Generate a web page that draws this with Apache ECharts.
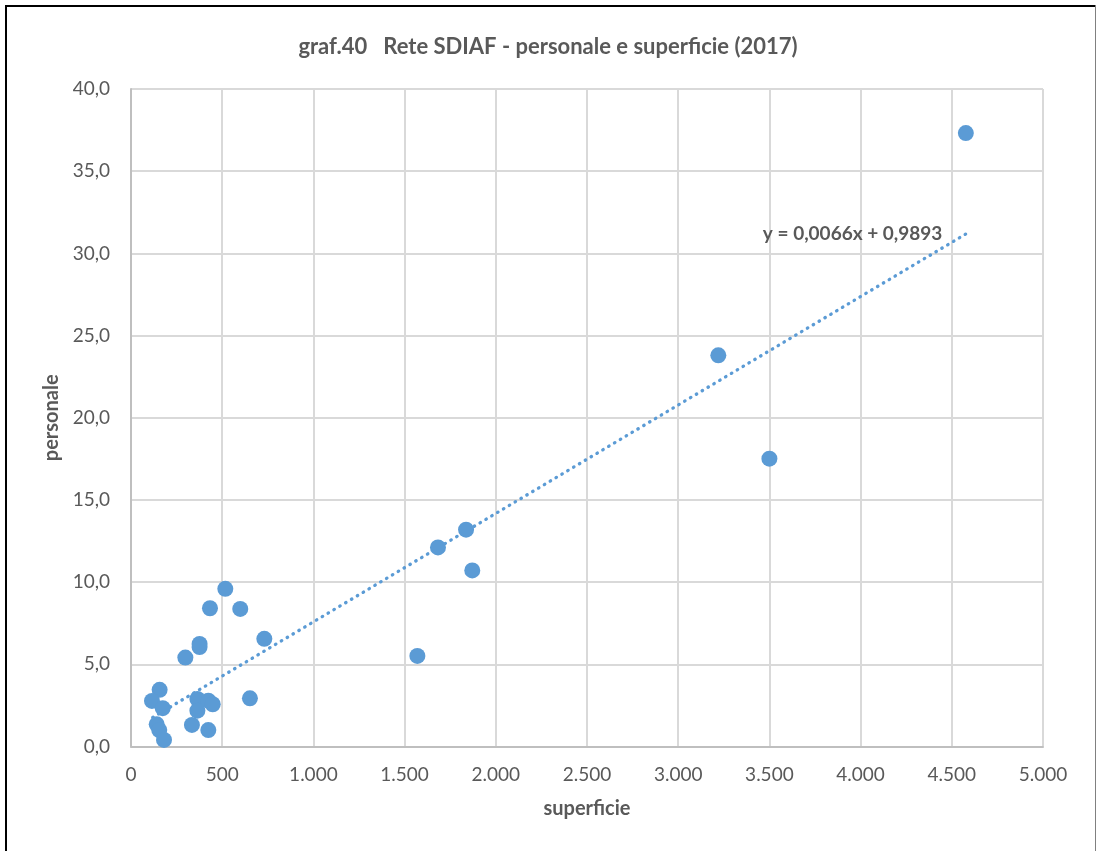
<!DOCTYPE html>
<html><head><meta charset="utf-8">
<script src="https://cdn.jsdelivr.net/npm/echarts@6/dist/echarts.min.js"></script>
<style>html,body{margin:0;padding:0;background:#fff;}#c{width:1096px;height:851px;}</style>
</head><body><div id="c"></div>
<script>
const superficie = [517, 433, 599, 376, 376, 298, 731, 157, 115, 174, 364, 424, 448, 364, 334, 424, 652, 141, 155, 181, 1683, 1837, 1871, 1570, 3220, 3500, 4577];
const personale  = [9.59, 8.41, 8.37, 6.24, 6.05, 5.41, 6.55, 3.45, 2.77, 2.33, 2.89, 2.79, 2.57, 2.18, 1.31, 1.0, 2.93, 1.35, 1.0, 0.4, 12.11, 13.19, 10.71, 5.51, 23.8, 17.51, 37.32];
const trendX = [119, 4580];
const trendY = [1.77, 31.2];
const trendLabel = 'y = 0,0066x + 0,9893';
const titleText = 'graf.40   Rete SDIAF - personale e superficie (2017)';
const xName = 'superficie';
const yName = 'personale';

const FONT = 'Lato';
const fmtX = v => v >= 1000 ? (Math.floor(v/1000) + '.' + String(v%1000).padStart(3,'0')) : String(v);
const fmtY = v => v.toFixed(1).replace('.', ',');

const chart = echarts.init(document.getElementById('c'), null, {renderer:'canvas'});
chart.setOption({
  animation: false,
  backgroundColor: '#fff',
  textStyle: {fontFamily: FONT},
  title: {
    text: titleText, left: 'center', top: 31,
    textStyle: {fontFamily: FONT, fontWeight: 'bold', fontSize: 22, color: '#595959'}
  },
  grid: {left: 131, right: 53, top: 89, bottom: 104.5, containLabel: false},
  xAxis: {
    type: 'value', min: 0, max: 5000, interval: 500,
    name: xName, nameLocation: 'middle', nameGap: 52,
    nameTextStyle: {fontFamily: FONT, fontWeight: 'bold', fontSize: 20, color: '#595959'},
    axisLine: {show: true, lineStyle: {color: '#bfbfbf', width: 2}},
    axisTick: {show: false},
    splitLine: {show: true, lineStyle: {color: '#d9d9d9', width: 2}},
    axisLabel: {fontFamily: FONT, fontSize: 19, color: '#595959', margin: 19, formatter: fmtX}
  },
  yAxis: {
    type: 'value', min: 0, max: 40, interval: 5,
    name: yName, nameLocation: 'middle', nameGap: 64, nameRotate: 90,
    nameTextStyle: {fontFamily: FONT, fontWeight: 'bold', fontSize: 20, color: '#595959'},
    axisLine: {show: true, lineStyle: {color: '#bfbfbf', width: 2}},
    axisTick: {show: false},
    splitLine: {show: true, lineStyle: {color: '#d9d9d9', width: 2}},
    axisLabel: {fontFamily: FONT, fontSize: 19, color: '#595959', margin: 21, formatter: fmtY}
  },
  series: [
    {
      type: 'line', z: 3, symbol: 'none', silent: true,
      data: trendX.map((x, i) => [x, trendY[i]]),
      lineStyle: {color: '#5b9bd5', width: 3.3, type: [0.5, 6.3], cap: 'round'},
      markPoint: {
        silent: true,
        data: [{
          coord: [trendX[1], trendY[1]], symbol: 'circle', symbolSize: 0,
          label: {
            show: true, formatter: trendLabel, position: 'left', distance: 24,
            fontFamily: FONT, fontWeight: 'bold', fontSize: 19, color: '#595959'
          }
        }]
      }
    },
    {
      type: 'scatter', z: 4, symbolSize: 16,
      itemStyle: {color: '#5b9bd5', opacity: 1},
      data: superficie.map((x, i) => [x, personale[i]])
    }
  ],
  graphic: [
    {type: 'line', shape: {x1: 5, y1: 6, x2: 1096, y2: 6}, style: {stroke: '#000', lineWidth: 2}},
    {type: 'line', shape: {x1: 6, y1: 5, x2: 6, y2: 851}, style: {stroke: '#000', lineWidth: 2}},
    {type: 'line', shape: {x1: 1095.5, y1: 5, x2: 1095.5, y2: 851}, style: {stroke: '#808080', lineWidth: 1}}
  ]
});
</script></body></html>
